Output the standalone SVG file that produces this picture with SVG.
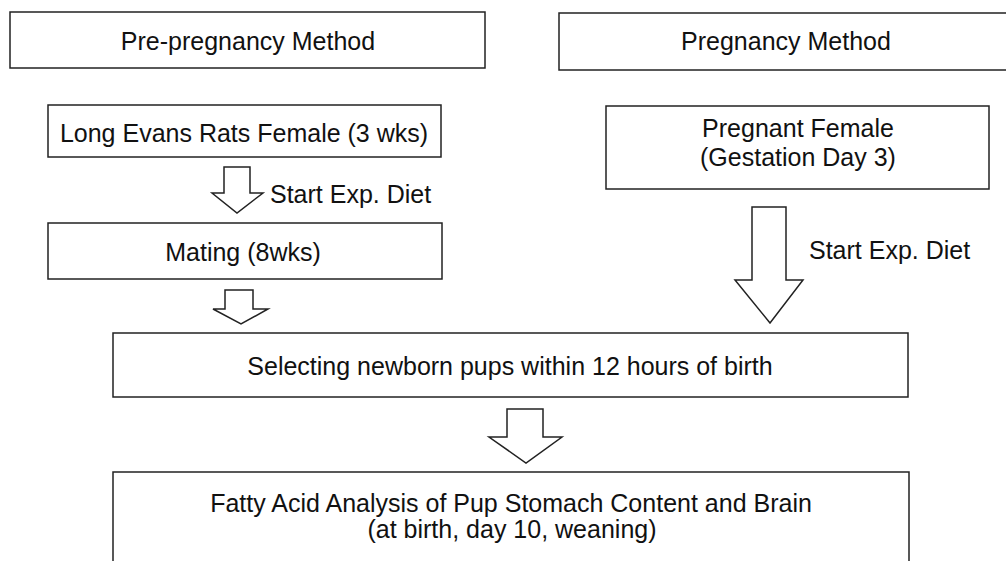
<svg xmlns="http://www.w3.org/2000/svg" width="1006" height="561" viewBox="0 0 1006 561">
<style>
.box{fill:none;stroke:#222;stroke-width:1.5}
.arr{fill:#fff;stroke:#222;stroke-width:1.5;stroke-linejoin:miter}
text{font-family:"Liberation Sans",Arial,sans-serif;font-size:25px;fill:#111}
.c{text-anchor:middle}
</style>
<rect width="1006" height="561" fill="#fff"/>
<g id="pre-pregnancy-method">
<rect class="box" x="10" y="12" width="475" height="56"/>
<text class="c" x="248" y="50">Pre-pregnancy Method</text>
</g>
<g id="pregnancy-method">
<rect class="box" x="559" y="13" width="460" height="57"/>
<text class="c" x="786" y="50">Pregnancy Method</text>
</g>
<g id="long-evans">
<rect class="box" x="48" y="105" width="393" height="52"/>
<text class="c" x="244" y="142">Long Evans Rats Female (3 wks)</text>
</g>
<g id="pregnant-female">
<rect class="box" x="606" y="106" width="383" height="83"/>
<text class="c" x="798" y="137">Pregnant Female</text>
<text class="c" x="798" y="166">(Gestation Day 3)</text>
</g>
<g id="mating">
<rect class="box" x="48" y="223" width="394" height="56"/>
<text class="c" x="243" y="261">Mating (8wks)</text>
</g>
<g id="selecting">
<rect class="box" x="113" y="333" width="795" height="64"/>
<text class="c" x="510" y="375">Selecting newborn pups within 12 hours of birth</text>
</g>
<g id="fatty-acid">
<path class="box" d="M113,575 V472 H909 V575"/>
<text class="c" x="511" y="512">Fatty Acid Analysis of Pup Stomach Content and Brain</text>
<text class="c" x="512" y="538">(at birth, day 10, weaning)</text>
</g>
<g id="connectors">
<path class="arr" d="M224,167 H250 V193 H263 L237,213 L212,193 H224 Z"/>
<text x="270" y="203">Start Exp. Diet</text>
<path class="arr" d="M225,290 H253 V309 H268 L241,324 L213,309 H225 Z"/>
<path class="arr" d="M752,207 H786 V280 H803 L770,323 L735,280 H752 Z"/>
<text x="809" y="259">Start Exp. Diet</text>
<path class="arr" d="M507,409 H543 V437 H562 L526,463 L489,437 H507 Z"/>
</g>
</svg>
